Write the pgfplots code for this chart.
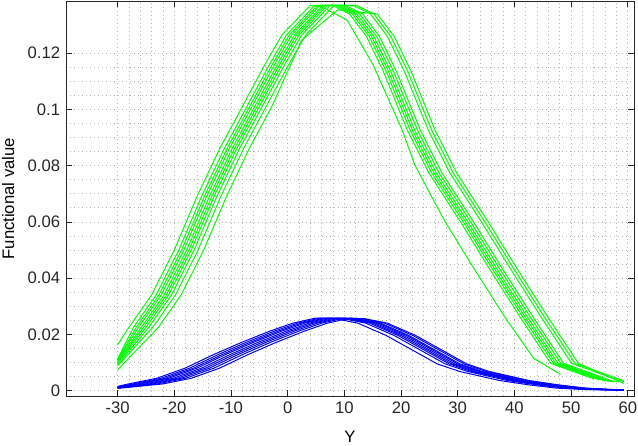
\documentclass[border=0pt]{standalone}
\usepackage{fontspec}
\setmainfont{Liberation Sans}
\usepackage{pgfplots}
\pgfplotsset{compat=1.18}
\usetikzlibrary{calc}
\definecolor{axgray}{HTML}{262626}
\definecolor{gridgray}{HTML}{B4B4B4}
\definecolor{mgreen}{HTML}{00FF00}
\definecolor{mblue}{HTML}{0000FF}

\begin{document}
\begin{tikzpicture}
\begin{axis}[
    name=ax, scale only axis,
    width=340.8pt, height=236.7pt,
    xmin=-39.1, xmax=61.1, ymin=-0.0019, ymax=0.1384,
    xtick={-30,-20,-10,0,10,20,30,40,50,60},
    ytick={0,0.02,0.04,0.06,0.08,0.1,0.12},
    minor x tick num=4, minor y tick num=3,
    grid=both,
    major grid style={gridgray, line width=0.5pt, dash pattern=on 0.6pt off 1.8pt},
    minor grid style={gridgray, line width=0.5pt, dash pattern=on 0.6pt off 1.8pt},
    tick align=inside, major tick length=3.6pt, minor tick length=0pt,
    axis line style={axgray, line width=0.5pt},
    every tick/.style={axgray, line width=0.5pt},
    scaled y ticks=false,
    yticklabel style={/pgf/number format/fixed, /pgf/number format/precision=2},
    /pgf/number format/assume math mode=true,
    tick label style={font=\fontsize{10}{12}\selectfont, text=axgray},
    label style={font=\fontsize{11.5}{13}\selectfont, text=axgray},
    xlabel={Y}, ylabel={Functional value},
    every axis x label/.style={at={(axis description cs:0.5,-0.104)}, anchor=center},
    every axis y label/.style={at={(axis description cs:-0.102,0.5)}, rotate=90, anchor=center},
    clip=true,
]
% green family
\addplot[mgreen, line width=0.6pt] coordinates {
 (-30,0.0163) (-28,0.0225) (-24,0.0340) (-20,0.0500) (-16,0.0690) (-12,0.0860)
 (-8,0.1010) (-4,0.1160) (-1,0.1265) (4,0.1370) (6,0.1365) (10.5,0.1318)
 (15.1,0.1158) (20.2,0.0927) (22.5,0.0800) (27.8,0.0600) (32.7,0.0440)
 (38.2,0.0265) (43.4,0.0115) (48.1,0.0058)};
\addplot[mgreen, line width=0.6pt] coordinates {
 (-30,0.0112) (-27.2,0.0225) (-23.2,0.0340) (-19.2,0.0500) (-15.2,0.0690) (-11.2,0.0860)
 (-7.2,0.1010) (-3.2,0.1160) (-0.2,0.1265) (4.8,0.1370) (7.9,0.1370) (10.9,0.1340)
 (13.9,0.1260) (16.9,0.1135) (21.1,0.0927) (24.9,0.0775) (30.5,0.0600) (35.4,0.0440)
 (40.9,0.0265) (46.4,0.0097) (54,0.0042)};
\addplot[mgreen, line width=0.6pt] coordinates {
 (-30,0.0110) (-26.7,0.0225) (-22.7,0.0340) (-18.7,0.0500) (-14.7,0.0690) (-10.7,0.0860)
 (-6.7,0.1010) (-2.7,0.1160) (0.3,0.1265) (5.3,0.1370) (8.4,0.1370) (11.4,0.1340)
 (14.4,0.1260) (17.4,0.1135) (21.6,0.0927) (25.4,0.0775) (31,0.0600) (35.9,0.0440)
 (41.4,0.0265) (46.9,0.0097) (55,0.0038)};
\addplot[mgreen, line width=0.6pt] coordinates {
 (-30,0.0108) (-26.3,0.0225) (-22.3,0.0340) (-18.3,0.0500) (-14.3,0.0690) (-10.3,0.0860)
 (-6.3,0.1010) (-2.3,0.1160) (0.7,0.1265) (5.7,0.1370) (8.8,0.1370) (11.8,0.1340)
 (14.8,0.1260) (17.8,0.1135) (22,0.0927) (25.8,0.0775) (31.4,0.0600) (36.3,0.0440)
 (41.8,0.0265) (47.3,0.0097) (56,0.0034)};
\addplot[mgreen, line width=0.6pt] coordinates {
 (-30,0.0105) (-25.8,0.0225) (-21.8,0.0340) (-17.8,0.0500) (-13.8,0.0690) (-9.8,0.0860)
 (-5.8,0.1010) (-1.8,0.1160) (1.2,0.1265) (6.2,0.1370) (9.2,0.1370) (12.2,0.1340)
 (15.2,0.1260) (18.2,0.1135) (22.4,0.0927) (26.2,0.0775) (31.8,0.0600) (36.7,0.0440)
 (42.2,0.0265) (47.7,0.0097) (56.2,0.0035) (57,0.0032)};
\addplot[mgreen, line width=0.6pt] coordinates {
 (-30,0.0102) (-25.4,0.0225) (-21.4,0.0340) (-17.4,0.0500) (-13.4,0.0690) (-9.4,0.0860)
 (-5.4,0.1010) (-1.4,0.1160) (1.6,0.1265) (6.6,0.1370) (9.7,0.1370) (12.7,0.1340)
 (15.7,0.1260) (18.7,0.1135) (22.9,0.0927) (26.7,0.0775) (32.3,0.0600) (37.2,0.0440)
 (42.7,0.0265) (48.2,0.0097) (56.7,0.0035) (57.6,0.0032)};
\addplot[mgreen, line width=0.6pt] coordinates {
 (-30,0.0098) (-25,0.0225) (-21,0.0340) (-17,0.0500) (-13,0.0690) (-9,0.0860)
 (-5,0.1010) (-1,0.1160) (2,0.1265) (7,0.1370) (10.2,0.1370) (13.2,0.1340)
 (16.2,0.1260) (19.2,0.1135) (23.4,0.0927) (27.2,0.0775) (32.8,0.0600) (37.7,0.0440)
 (43.2,0.0265) (48.7,0.0097) (57.2,0.0035) (58.5,0.0031)};
\addplot[mgreen, line width=0.6pt] coordinates {
 (-30,0.0092) (-24.5,0.0225) (-20.5,0.0340) (-16.5,0.0500) (-12.5,0.0690) (-8.5,0.0860)
 (-4.5,0.1010) (-0.5,0.1160) (2.5,0.1265) (7.5,0.1370) (12.2,0.1370) (15.2,0.1340)
 (18.2,0.1260) (21.2,0.1135) (25.4,0.0927) (29.2,0.0775) (34.8,0.0600) (39.7,0.0440)
 (45.2,0.0265) (50.7,0.0097) (59.3,0.0035)};
\addplot[mgreen, line width=0.6pt] coordinates {
 (-30,0.0088) (-23.8,0.0225) (-19.8,0.0340) (-15.8,0.0500) (-11.8,0.0690) (-7.8,0.0860)
 (-3.8,0.1010) (0.2,0.1160) (3.2,0.1265) (8.2,0.1370) (11.6,0.1370) (14.6,0.1340)
 (17.6,0.1260) (20.6,0.1135) (24.8,0.0927) (28.6,0.0775) (34.2,0.0600) (39.1,0.0440)
 (44.6,0.0265) (50.1,0.0097) (58.6,0.0035) (59.3,0.0033)};
\addplot[mgreen, line width=0.6pt] coordinates {
 (-30,0.0074) (-22.8,0.0225) (-18.8,0.0340) (-14.8,0.0500) (-10.8,0.0690) (-6.8,0.0860)
 (-2.8,0.1010) (2.5,0.1247) (8.8,0.1354) (15.8,0.1340)
 (18.8,0.1260) (21.8,0.1135) (26,0.0927) (29.8,0.0775) (35.4,0.0600) (40.3,0.0440)
 (45.8,0.0265) (51.3,0.0097) (59.3,0.0026)};
% blue family
\addplot[mblue, line width=0.6pt] coordinates {
 (-30,0.0015) (-28.1,0.0024) (-23.1,0.0044) (-18.1,0.0080) (-13.1,0.0128) (-8.1,0.0172)
 (-3.1,0.0212) (0.9,0.0240) (4.9,0.0258) (9.8,0.0256) (13.8,0.0240) (18.8,0.0196)
 (23.8,0.0140) (27.8,0.0095) (31.8,0.0068) (38.8,0.0036) (43.8,0.0021) (48.8,0.0009)
 (53.8,0.0004) (59.3,0.0002)};
\addplot[mblue, line width=0.6pt] coordinates {
 (-30,0.0013) (-27.3,0.0024) (-22.3,0.0044) (-17.3,0.0080) (-12.3,0.0128) (-7.3,0.0172)
 (-2.3,0.0212) (1.7,0.0240) (5.7,0.0258) (8.4,0.0256) (12.4,0.0240) (17.4,0.0196)
 (22.4,0.0140) (26.4,0.0095) (30.4,0.0068) (37.4,0.0036) (42.4,0.0021) (47.4,0.0009)
 (52.4,0.0004) (59.3,0.0002)};
\addplot[mblue, line width=0.6pt] coordinates {
 (-30,0.0012) (-26.6,0.0024) (-21.6,0.0044) (-16.6,0.0080) (-11.6,0.0128) (-6.6,0.0172)
 (-1.6,0.0212) (2.4,0.0240) (6.4,0.0258) (11.5,0.0256) (15.5,0.0240) (20.5,0.0196)
 (25.5,0.0140) (29.5,0.0095) (33.5,0.0068) (40.5,0.0036) (45.5,0.0021) (50.5,0.0009)
 (55.5,0.0004) (59.3,0.0002)};
\addplot[mblue, line width=0.6pt] coordinates {
 (-30,0.0011) (-26,0.0024) (-21,0.0044) (-16,0.0080) (-11,0.0128) (-6,0.0172)
 (-1,0.0212) (3,0.0240) (7,0.0258) (10.5,0.0256) (14.5,0.0240) (19.5,0.0196)
 (24.5,0.0140) (28.5,0.0095) (32.5,0.0068) (39.5,0.0036) (44.5,0.0021) (49.5,0.0009)
 (54.5,0.0004) (59.3,0.0002)};
\addplot[mblue, line width=0.6pt] coordinates {
 (-30,0.0011) (-25.2,0.0024) (-20.2,0.0044) (-15.2,0.0080) (-10.2,0.0128) (-5.2,0.0172)
 (-0.2,0.0212) (3.8,0.0240) (7.8,0.0258) (12.4,0.0256) (16.4,0.0240) (21.4,0.0196)
 (26.4,0.0140) (30.4,0.0095) (34.4,0.0068) (41.4,0.0036) (46.4,0.0021) (51.4,0.0009)
 (56.4,0.0004) (59.3,0.0002)};
\addplot[mblue, line width=0.6pt] coordinates {
 (-30,0.0010) (-24.5,0.0024) (-19.5,0.0044) (-14.5,0.0080) (-9.5,0.0128) (-4.5,0.0172)
 (0.5,0.0212) (4.5,0.0240) (8.5,0.0258) (11,0.0256) (15,0.0240) (20,0.0196)
 (25,0.0140) (29,0.0095) (33,0.0068) (40,0.0036) (45,0.0021) (50,0.0009)
 (55,0.0004) (59.3,0.0002)};
\addplot[mblue, line width=0.6pt] coordinates {
 (-30,0.0010) (-23.8,0.0024) (-18.8,0.0044) (-13.8,0.0080) (-8.8,0.0128) (-3.8,0.0172)
 (1.2,0.0212) (5.2,0.0240) (9.2,0.0258) (13.6,0.0256) (17.6,0.0240) (22.6,0.0196)
 (27.6,0.0140) (31.6,0.0095) (35.6,0.0068) (42.6,0.0036) (47.6,0.0021) (52.6,0.0009)
 (57.6,0.0004) (59.3,0.0003)};
\addplot[mblue, line width=0.6pt] coordinates {
 (-30,0.0009) (-23,0.0024) (-18,0.0044) (-13,0.0080) (-8,0.0128) (-3,0.0172)
 (2,0.0212) (6,0.0240) (10,0.0258) (12,0.0256) (16,0.0240) (21,0.0196)
 (26,0.0140) (30,0.0095) (34,0.0068) (41,0.0036) (46,0.0021) (51,0.0009)
 (56,0.0004) (59.3,0.0003)};
\addplot[mblue, line width=0.6pt] coordinates {
 (-30,0.0008) (-22,0.0024) (-17,0.0044) (-12,0.0080) (-7,0.0128) (-2,0.0172)
 (3,0.0212) (7,0.0240) (11,0.0258) (13.1,0.0256) (17.1,0.0240) (22.1,0.0196)
 (27.1,0.0140) (31.1,0.0095) (35.1,0.0068) (42.1,0.0036) (47.1,0.0021) (52.1,0.0009)
 (57.1,0.0004) (59.3,0.0003)};
\end{axis}
\pgfresetboundingbox
\path ($(ax.south west)+(-39.6pt,-30pt)$) rectangle ($(ax.north east)+(2.4pt,0.9pt)$);
\end{tikzpicture}
\end{document}
